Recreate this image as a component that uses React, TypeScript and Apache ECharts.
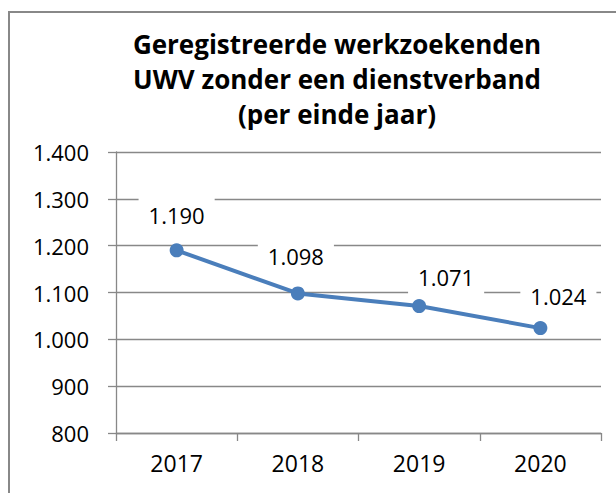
import React, { useEffect, useRef } from "react";
import * as echarts from "echarts";

const categories = ["2017", "2018", "2019", "2020"];
const values = [1190, 1098, 1071, 1024];
const labelShift = [[0, 0], [-2, -2], [27, 6], [18, 3]];
const titleLines = ["Geregistreerde werkzoekenden", "UWV zonder een dienstverband", "(per einde jaar)"];

const fmt = (v: number) => {
  const s = String(Math.round(v));
  return s.length > 3 ? s.slice(0, s.length - 3) + "." + s.slice(s.length - 3) : s;
};

export default function App() {
  const ref = useRef<HTMLDivElement>(null);
  useEffect(() => {
    document.body.style.margin = "0";
    const chart = echarts.init(ref.current!, null, { renderer: "svg" });
    const font = "'Open Sans', 'Liberation Sans', sans-serif";
    const grey = "#888888";
    chart.setOption({
      animation: false,
      backgroundColor: "#ffffff",
      textStyle: { fontFamily: font },
      title: {
        text: titleLines.join("\n"),
        left: 332,
        top: 21,
        textAlign: "center",
        textStyle: { fontSize: 26, fontWeight: "bold", color: "#000", lineHeight: 35, fontFamily: font },
      },
      graphic: [
        {
          type: "rect",
          shape: { x: 9, y: 12, width: 700, height: 600 },
          style: { fill: "none", stroke: grey, lineWidth: 2 },
          silent: true,
          z: -1,
        },
      ],
      grid: { show: false, left: 116, right: 15, top: 152, bottom: 60 },
      xAxis: {
        type: "category",
        data: categories,
        boundaryGap: true,
        splitLine: { show: false },
        axisLine: { lineStyle: { color: grey, width: 1.3 } },
        axisTick: { show: true, length: 8, lineStyle: { color: grey, width: 1.3 } },
        axisLabel: { color: "#000", fontSize: 23, margin: 18, fontFamily: font },
      },
      yAxis: {
        type: "value",
        min: 800,
        max: 1400,
        interval: 100,
        axisLine: { show: true, lineStyle: { color: grey, width: 1.3 } },
        axisTick: { show: true, length: 8, lineStyle: { color: grey, width: 1.3 } },
        splitLine: { show: true, lineStyle: { color: grey, width: 1.3 } },
        axisLabel: { color: "#000", fontSize: 22, margin: 27, formatter: (v: number) => fmt(v), fontFamily: font },
      },
      series: [
        {
          type: "line",
          data: values.map((v, i) => ({
            value: v,
            label: { offset: labelShift[i] },
          })),
          symbol: "circle",
          symbolSize: 14,
          lineStyle: { color: "#4A7EBB", width: 4 },
          itemStyle: { color: "#4A7EBB" },
          z: 3,
          label: {
            show: true,
            position: "top",
            distance: 9,
            color: "#000",
            fontSize: 22,
            fontFamily: font,
            backgroundColor: "#ffffff",
            padding: [8, 10],
            formatter: (p: any) => fmt(p.value),
          },
        },
      ],
    });
    return () => chart.dispose();
  }, []);
  return <div ref={ref} style={{ width: 616, height: 493 }} />;
}
